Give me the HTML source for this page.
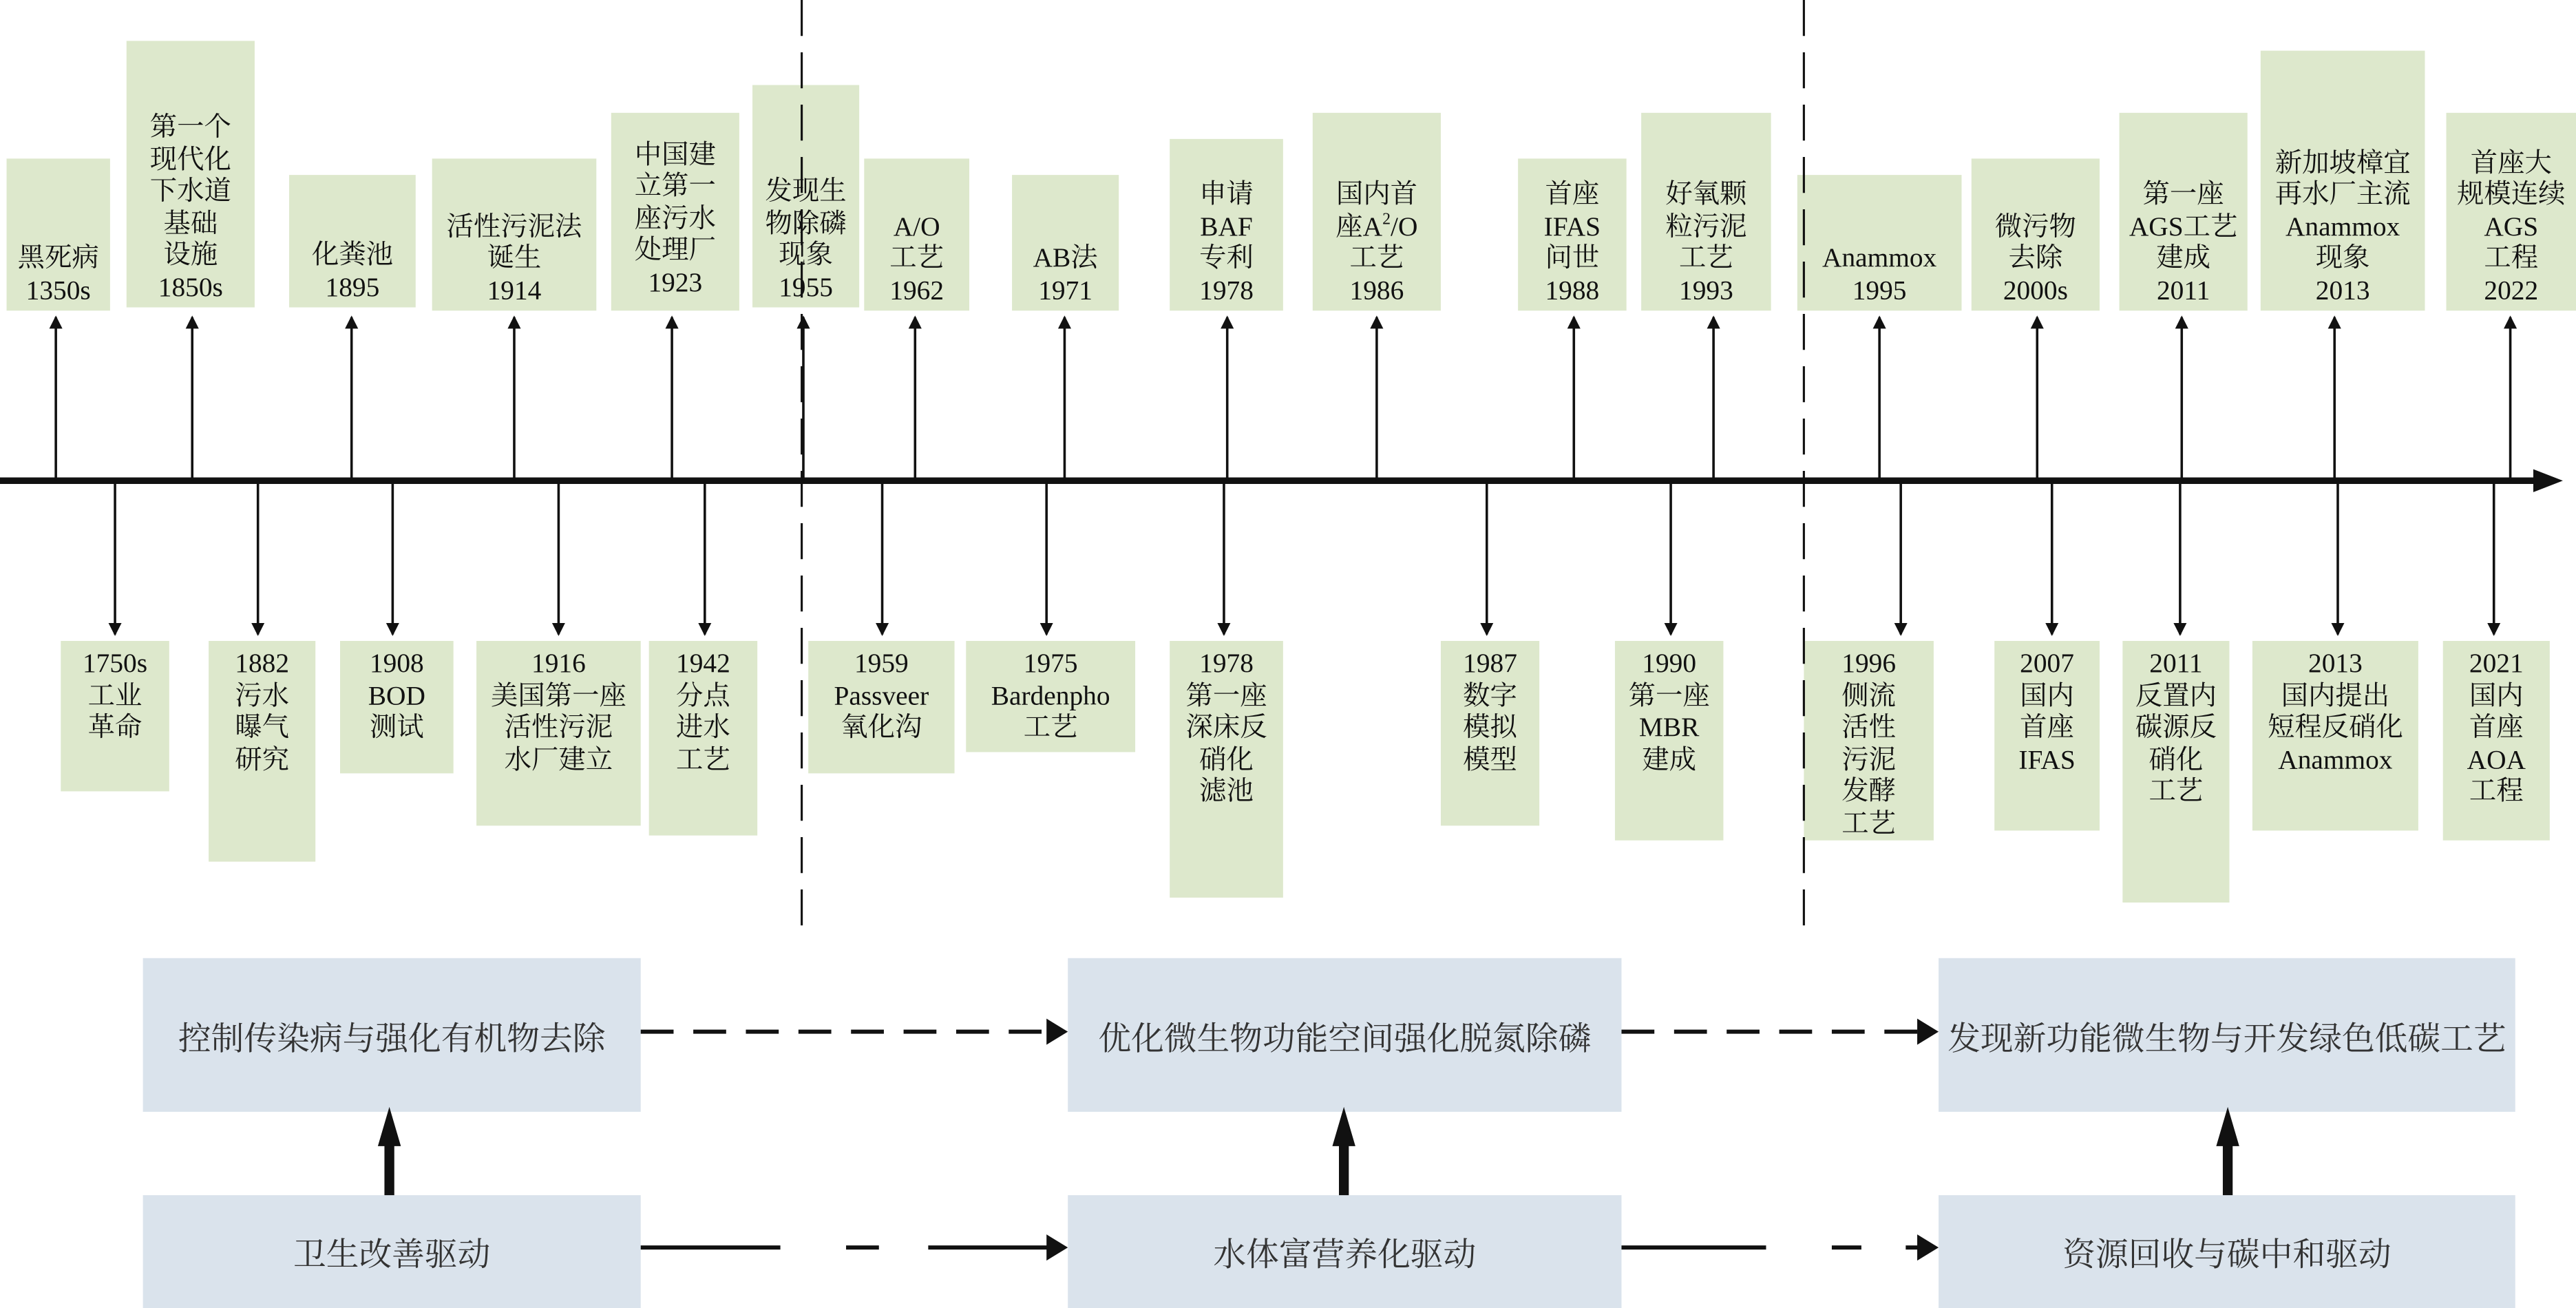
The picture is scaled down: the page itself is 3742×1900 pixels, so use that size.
<!DOCTYPE html>
<html><head><meta charset="utf-8"><style>
html,body{margin:0;padding:0;background:#fff;}
body{width:3742px;height:1900px;overflow:hidden;position:relative;}
#s{position:absolute;left:0;top:0;width:1568px;height:800px;transform-origin:0 0;transform:scale(2.3865,2.375);}
.g{position:absolute;background:#dde8cc;font-family:"Liberation Serif","Noto Serif CJK SC",serif;font-size:16.5px;line-height:19.5px;color:#111;text-align:center;display:flex;flex-direction:column;align-items:center;white-space:nowrap;}
.t{justify-content:flex-end;padding-bottom:3px;box-sizing:border-box;}
.b{justify-content:flex-start;padding-top:4px;box-sizing:border-box;}
.bl{position:absolute;background:#dae3ec;font-family:"Liberation Serif","Noto Serif CJK SC",serif;font-size:20px;color:#333;display:flex;align-items:center;justify-content:center;white-space:nowrap;}
svg{position:absolute;left:0;top:0;}
sup{font-size:10px;line-height:0;vertical-align:7px;}
</style></head><body><div id="s">
<div class="g t" style="left:4px;top:97px;width:63px;height:93px">黑死病<br>1350s</div>
<div class="g t" style="left:77px;top:25px;width:78px;height:163px">第一个<br>现代化<br>下水道<br>基础<br>设施<br>1850s</div>
<div class="g t" style="left:176px;top:107px;width:77px;height:81px">化粪池<br>1895</div>
<div class="g t" style="left:263px;top:97px;width:100px;height:93px">活性污泥法<br>诞生<br>1914</div>
<div class="g t" style="left:372px;top:69px;width:78px;height:121px;padding-bottom:8px">中国建<br>立第一<br>座污水<br>处理厂<br>1923</div>
<div class="g t" style="left:458px;top:52px;width:65px;height:136px">发现生<br>物除磷<br>现象<br>1955</div>
<div class="g t" style="left:526px;top:97px;width:64px;height:93px">A/O<br>工艺<br>1962</div>
<div class="g t" style="left:616px;top:107px;width:65px;height:83px">AB法<br>1971</div>
<div class="g t" style="left:712px;top:85px;width:69px;height:105px">申请<br>BAF<br>专利<br>1978</div>
<div class="g t" style="left:799px;top:69px;width:78px;height:121px"><span>国内首</span><span>座A<sup>2</sup>/O</span><span>工艺</span><span>1986</span></div>
<div class="g t" style="left:924px;top:97px;width:66px;height:93px">首座<br>IFAS<br>问世<br>1988</div>
<div class="g t" style="left:999px;top:69px;width:79px;height:121px">好氧颗<br>粒污泥<br>工艺<br>1993</div>
<div class="g t" style="left:1094px;top:107px;width:100px;height:83px">Anammox<br>1995</div>
<div class="g t" style="left:1200px;top:97px;width:78px;height:93px">微污物<br>去除<br>2000s</div>
<div class="g t" style="left:1290px;top:69px;width:78px;height:121px">第一座<br>AGS工艺<br>建成<br>2011</div>
<div class="g t" style="left:1376px;top:31px;width:100px;height:159px">新加坡樟宜<br>再水厂主流<br>Anammox<br>现象<br>2013</div>
<div class="g t" style="left:1489px;top:69px;width:79px;height:121px">首座大<br>规模连续<br>AGS<br>工程<br>2022</div>

<div class="g b" style="left:37px;top:392px;width:66px;height:92px">1750s<br>工业<br>革命</div>
<div class="g b" style="left:127px;top:392px;width:65px;height:135px">1882<br>污水<br>曝气<br>研究</div>
<div class="g b" style="left:207px;top:392px;width:69px;height:81px">1908<br>BOD<br>测试</div>
<div class="g b" style="left:290px;top:392px;width:100px;height:113px">1916<br>美国第一座<br>活性污泥<br>水厂建立</div>
<div class="g b" style="left:395px;top:392px;width:66px;height:119px">1942<br>分点<br>进水<br>工艺</div>
<div class="g b" style="left:492px;top:392px;width:89px;height:81px">1959<br>Passveer<br>氧化沟</div>
<div class="g b" style="left:588px;top:392px;width:103px;height:68px">1975<br>Bardenpho<br>工艺</div>
<div class="g b" style="left:712px;top:392px;width:69px;height:157px">1978<br>第一座<br>深床反<br>硝化<br>滤池</div>
<div class="g b" style="left:877px;top:392px;width:60px;height:113px">1987<br>数字<br>模拟<br>模型</div>
<div class="g b" style="left:983px;top:392px;width:66px;height:122px">1990<br>第一座<br>MBR<br>建成</div>
<div class="g b" style="left:1098px;top:392px;width:79px;height:122px">1996<br>侧流<br>活性<br>污泥<br>发酵<br>工艺</div>
<div class="g b" style="left:1214px;top:392px;width:64px;height:116px">2007<br>国内<br>首座<br>IFAS</div>
<div class="g b" style="left:1292px;top:392px;width:65px;height:160px">2011<br>反置内<br>碳源反<br>硝化<br>工艺</div>
<div class="g b" style="left:1371px;top:392px;width:101px;height:116px">2013<br>国内提出<br>短程反硝化<br>Anammox</div>
<div class="g b" style="left:1487px;top:392px;width:65px;height:122px">2021<br>国内<br>首座<br>AOA<br>工程</div>

<div class="bl" style="left:87px;top:586px;width:303px;height:94px">控制传染病与强化有机物去除</div>
<div class="bl" style="left:650px;top:586px;width:337px;height:94px">优化微生物功能空间强化脱氮除磷</div>
<div class="bl" style="left:1180px;top:586px;width:351px;height:94px">发现新功能微生物与开发绿色低碳工艺</div>
<div class="bl" style="left:87px;top:731px;width:303px;height:69px">卫生改善驱动</div>
<div class="bl" style="left:650px;top:731px;width:337px;height:69px">水体富营养化驱动</div>
<div class="bl" style="left:1180px;top:731px;width:351px;height:69px">资源回收与碳中和驱动</div>

<svg width="1568" height="800" viewBox="0 0 1568 800">
<defs><marker id="a" markerWidth="8" markerHeight="8" refX="7" refY="4" orient="auto" markerUnits="userSpaceOnUse"><path d="M0,0 L8,4 L0,8z" fill="#111"/></marker></defs>
<g stroke="#111" stroke-width="1.3" stroke-dasharray="22 10">
<line x1="488" y1="0" x2="488" y2="575"/><line x1="1098" y1="0" x2="1098" y2="575"/></g>
<line x1="0" y1="294" x2="1550" y2="294" stroke="#111" stroke-width="4"/>
<path d="M1542,287 L1560,294 L1542,301z" fill="#111"/>
<g stroke="#111" stroke-width="1.5" marker-end="url(#a)">
<line x1="34" y1="294" x2="34" y2="194"/><line x1="117" y1="294" x2="117" y2="194"/><line x1="214" y1="294" x2="214" y2="194"/><line x1="313" y1="294" x2="313" y2="194"/><line x1="409" y1="294" x2="409" y2="194"/><line x1="489" y1="294" x2="489" y2="194"/><line x1="557" y1="294" x2="557" y2="194"/><line x1="648" y1="294" x2="648" y2="194"/><line x1="747" y1="294" x2="747" y2="194"/><line x1="838" y1="294" x2="838" y2="194"/><line x1="958" y1="294" x2="958" y2="194"/><line x1="1043" y1="294" x2="1043" y2="194"/><line x1="1144" y1="294" x2="1144" y2="194"/><line x1="1240" y1="294" x2="1240" y2="194"/><line x1="1328" y1="294" x2="1328" y2="194"/><line x1="1421" y1="294" x2="1421" y2="194"/><line x1="1528" y1="294" x2="1528" y2="194"/>
<line x1="70" y1="294" x2="70" y2="388"/><line x1="157" y1="294" x2="157" y2="388"/><line x1="239" y1="294" x2="239" y2="388"/><line x1="340" y1="294" x2="340" y2="388"/><line x1="429" y1="294" x2="429" y2="388"/><line x1="537" y1="294" x2="537" y2="388"/><line x1="637" y1="294" x2="637" y2="388"/><line x1="745" y1="294" x2="745" y2="388"/><line x1="905" y1="294" x2="905" y2="388"/><line x1="1017" y1="294" x2="1017" y2="388"/><line x1="1157" y1="294" x2="1157" y2="388"/><line x1="1249" y1="294" x2="1249" y2="388"/><line x1="1327" y1="294" x2="1327" y2="388"/><line x1="1423" y1="294" x2="1423" y2="388"/><line x1="1518" y1="294" x2="1518" y2="388"/>
</g>
<g stroke="#111" stroke-width="2.5">
<line x1="390" y1="631" x2="638" y2="631" stroke-dasharray="20 12"/>
<line x1="987" y1="631" x2="1168" y2="631" stroke-dasharray="20 12"/>
<line x1="390" y1="763" x2="475" y2="763"/><line x1="515" y1="763" x2="535" y2="763"/><line x1="565" y1="763" x2="638" y2="763"/>
<line x1="987" y1="763" x2="1075" y2="763"/><line x1="1115" y1="763" x2="1133" y2="763"/><line x1="1160" y1="763" x2="1168" y2="763"/>
</g>
<g fill="#111">
<path d="M637,623 L650,631 L637,639z"/><path d="M1167,623 L1180,631 L1167,639z"/>
<path d="M637,755 L650,763 L637,771z"/><path d="M1167,755 L1180,763 L1167,771z"/>
</g>
<g fill="#111">
<path d="M234,731 L234,701 L230,701 L237,677 L244,701 L240,701 L240,731z"/>
<path d="M815,731 L815,701 L811,701 L818,677 L825,701 L821,701 L821,731z"/>
<path d="M1353,731 L1353,701 L1349,701 L1356,677 L1363,701 L1359,701 L1359,731z"/>
</g>
</svg>
</div></body></html>
